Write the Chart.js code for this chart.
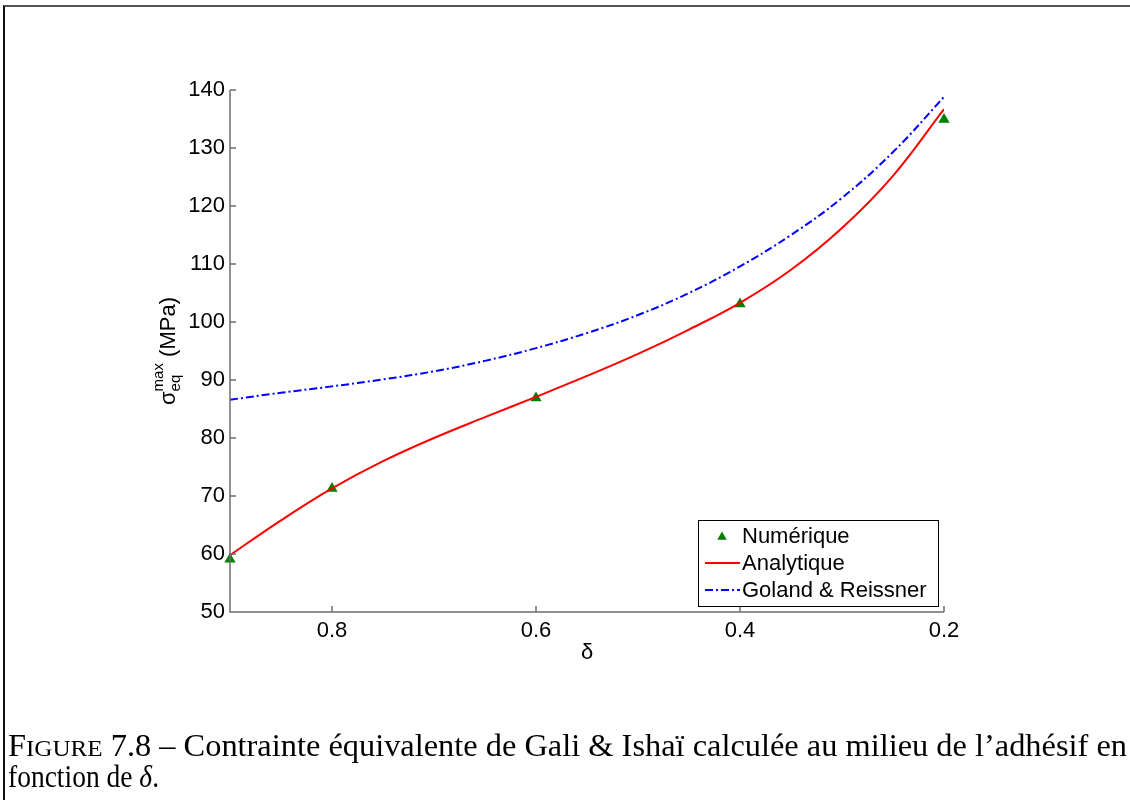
<!DOCTYPE html>
<html>
<head>
<meta charset="utf-8">
<script src="https://cdn.jsdelivr.net/npm/chart.js@4.4.1/dist/chart.umd.min.js"></script>
<style>
  html, body { margin: 0; padding: 0; background: #fff; }
  body { width: 1130px; height: 800px; position: relative; overflow: hidden; }
  #wrap { position: absolute; left: 0; top: 0; }
  #frame { position: absolute; left: 3px; top: 5px; width: 1130px; height: 800px;
           border-left: 2px solid #111; border-top: 2px solid #555; }
  #caption { position: absolute; left: 0; top: 700px; }
</style>
</head>
<body>
<div id="wrap"><canvas id="stressChart" width="1130" height="700"></canvas></div>
<div id="frame"></div>
<svg id="caption" width="1130" height="100" xmlns="http://www.w3.org/2000/svg">
  <text x="8" y="56" font-family="Liberation Serif" font-size="31" fill="#000"
        textLength="1119" lengthAdjust="spacingAndGlyphs">F<tspan font-size="24">IGURE</tspan> 7.8 – Contrainte équivalente de Gali &amp; Ishaï calculée au milieu de l’adhésif en</text>
  <text x="8" y="87" font-family="Liberation Serif" font-size="31" fill="#000"
        textLength="151" lengthAdjust="spacingAndGlyphs">fonction de <tspan font-style="italic">δ</tspan>.</text>
</svg>
<script>
const deltaCurve = [0.9, 0.85, 0.8, 0.75, 0.7, 0.65, 0.6, 0.55, 0.5, 0.45, 0.4, 0.35, 0.3, 0.25, 0.2];
const analytique = [59.8, 65.8, 71.3, 76.0, 80.0, 83.6, 87.1, 90.7, 94.5, 98.7, 103.3, 109.0, 116.2, 125.2, 136.7];
const goland     = [86.6, 87.8, 88.9, 90.1, 91.5, 93.3, 95.5, 98.1, 101.2, 105.0, 109.6, 115.0, 121.4, 129.3, 138.8];

// numerical results
const deltaNum  = [0.9, 0.8, 0.6, 0.4, 0.2];
const numerique = [59.1, 71.3, 86.9, 103.1, 134.9];

const xTicks = [0.8, 0.6, 0.4, 0.2];
const yTicks = [50, 60, 70, 80, 90, 100, 110, 120, 130, 140];

const labelFont = '"Liberation Sans", Arial, sans-serif';
const axisColor = '#6e6e6e';

const toPoints = (xs, ys) => xs.map((v, i) => ({ x: v, y: ys[i] }));

function triangle(ctx, x, y, r) {
  ctx.beginPath();
  ctx.moveTo(x, y - r);
  ctx.lineTo(x + Math.sin(Math.PI / 3) * r, y + r / 2);
  ctx.lineTo(x - Math.sin(Math.PI / 3) * r, y + r / 2);
  ctx.closePath();
  ctx.fill();
}

const matlabAxes = {
  id: 'matlabAxes',
  afterDraw(chart) {
    const { ctx, chartArea: a, scales: { x, y } } = chart;
    ctx.save();

    // axis lines + inward ticks
    ctx.strokeStyle = axisColor;
    ctx.lineWidth = 1.5;
    ctx.beginPath();
    ctx.moveTo(a.left, a.top);
    ctx.lineTo(a.left, a.bottom);
    ctx.lineTo(a.right, a.bottom);
    yTicks.forEach(v => {
      const py = y.getPixelForValue(v);
      ctx.moveTo(a.left, py);
      ctx.lineTo(a.left + 6, py);
    });
    xTicks.forEach(v => {
      const px = x.getPixelForValue(v);
      ctx.moveTo(px, a.bottom);
      ctx.lineTo(px, a.bottom - 6);
    });
    ctx.stroke();

    // x title
    ctx.fillStyle = '#000';
    ctx.font = '22px ' + labelFont;
    ctx.textAlign = 'center';
    ctx.textBaseline = 'alphabetic';
    ctx.fillText('δ', (a.left + a.right) / 2, 659);

    // y title: sigma_eq^max (MPa), rotated
    ctx.translate(175, (a.top + a.bottom) / 2);
    ctx.rotate(-Math.PI / 2);
    ctx.textAlign = 'left';
    const big = '22px ' + labelFont, small = '15px ' + labelFont;
    ctx.font = big;
    const wS = ctx.measureText('σ').width;
    const wR = ctx.measureText(' (MPa)').width;
    ctx.font = small;
    const wSup = Math.max(ctx.measureText('max').width, ctx.measureText('eq').width);
    let x0 = -(wS + wSup + wR) / 2;
    ctx.font = big;
    ctx.fillText('σ', x0, 0);
    ctx.font = small;
    ctx.fillText('max', x0 + wS, -12);
    ctx.fillText('eq', x0 + wS, 5);
    ctx.font = big;
    ctx.fillText(' (MPa)', x0 + wS + wSup, 0);
    ctx.restore();

    // legend box
    ctx.save();
    ctx.fillStyle = '#fff';
    ctx.fillRect(698, 520, 240, 86);
    ctx.strokeStyle = '#000';
    ctx.lineWidth = 1;
    ctx.strokeRect(698.5, 520.5, 240, 86);
    const ds = chart.data.datasets;
    ctx.fillStyle = ds[0].backgroundColor;
    triangle(ctx, 722, 537, 5.5);
    ctx.lineWidth = 2;
    ctx.strokeStyle = ds[1].borderColor;
    ctx.beginPath(); ctx.moveTo(705, 563); ctx.lineTo(740, 563); ctx.stroke();
    ctx.strokeStyle = ds[2].borderColor;
    ctx.setLineDash(ds[2].borderDash);
    ctx.beginPath(); ctx.moveTo(705, 590); ctx.lineTo(740, 590); ctx.stroke();
    ctx.setLineDash([]);
    ctx.fillStyle = '#000';
    ctx.font = '22px ' + labelFont;
    ctx.textBaseline = 'middle';
    ds.forEach((d, i) => ctx.fillText(d.label, 742, 537 + i * 27));
    ctx.restore();
  }
};

new Chart(document.getElementById('stressChart'), {
  type: 'line',
  data: {
    datasets: [
      {
        label: 'Numérique',
        data: toPoints(deltaNum, numerique),
        showLine: false,
        pointStyle: 'triangle',
        pointRadius: 6.5,
        backgroundColor: '#008000',
        borderColor: '#008000',
        borderWidth: 0,
        clip: false,
        order: 3
      },
      {
        label: 'Analytique',
        data: toPoints(deltaCurve, analytique),
        borderColor: '#ff0000',
        borderWidth: 2,
        pointRadius: 0,
        tension: 0.4,
        fill: false,
        order: 2
      },
      {
        label: 'Goland & Reissner',
        data: toPoints(deltaCurve, goland),
        borderColor: '#0000ff',
        borderWidth: 2,
        borderDash: [8, 3, 2, 3],
        pointRadius: 0,
        tension: 0.4,
        fill: false,
        order: 1
      }
    ]
  },
  options: {
    responsive: false,
    animation: false,
    layout: { padding: { left: 0, right: 186, top: 90, bottom: 0 } },
    plugins: {
      legend: { display: false },
      tooltip: { enabled: false }
    },
    scales: {
      x: {
        type: 'linear',
        reverse: true,
        min: 0.2,
        max: 0.9,
        grid: { display: false, drawTicks: false },
        border: { display: false },
        afterBuildTicks: s => { s.ticks = xTicks.map(v => ({ value: v })); },
        afterFit: s => { s.height = 88; },
        ticks: {
          padding: 6,
          color: '#000',
          font: { family: labelFont, size: 22 },
          maxRotation: 0,
          callback: v => v.toFixed(1)
        }
      },
      y: {
        min: 50,
        max: 140,
        grid: { display: false, drawTicks: false },
        border: { display: false },
        afterBuildTicks: s => { s.ticks = yTicks.map(v => ({ value: v })); },
        afterFit: s => { s.width = 230; },
        ticks: {
          padding: 5,
          color: '#000',
          font: { family: labelFont, size: 22 }
        }
      }
    }
  },
  plugins: [matlabAxes]
});
</script>
</body>
</html>
